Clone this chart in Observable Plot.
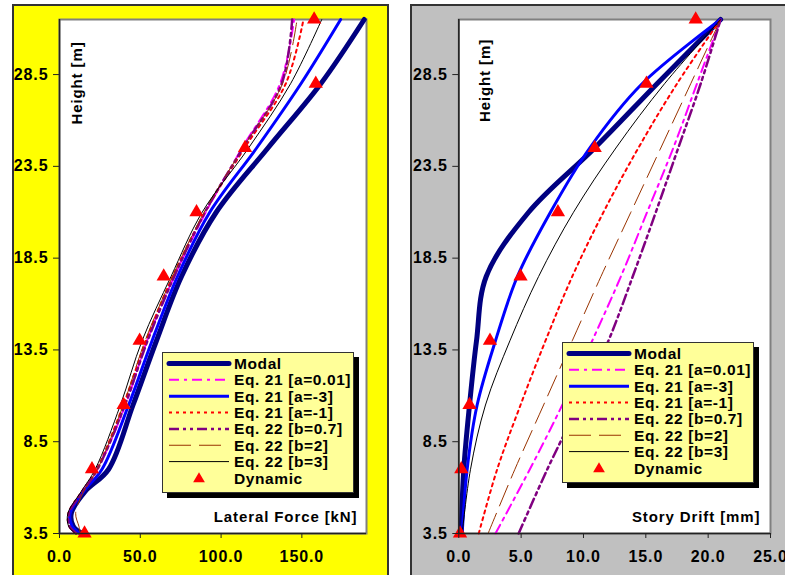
<!DOCTYPE html>
<html><head><meta charset="utf-8">
<script src="https://cdn.jsdelivr.net/npm/d3@7"></script>
<script src="https://cdn.jsdelivr.net/npm/@observablehq/plot@0.6"></script>
<style>
body{margin:0;background:#fff;width:785px;height:575px;overflow:hidden;position:relative;font-family:"Liberation Sans",Arial,sans-serif;}
.panel{position:absolute;box-sizing:border-box;}
#pL{left:12px;top:4px;width:377px;height:620px;background:#ffff00;border:2px solid #333;}
#pR{left:410px;top:4px;width:420px;height:620px;background:#c0c0c0;border:2px solid #333;}
.chart{position:absolute;top:0;}
</style></head><body>
<div id="pL" class="panel"></div><div id="pR" class="panel"></div>
<div id="cL" class="chart" style="left:0px"></div>
<div id="cR" class="chart" style="left:395px"></div>
<script>
// ---------- data ----------
const seriesNames = ["Modal","Eq. 21 [a=0.01]","Eq. 21 [a=-3]","Eq. 21 [a=-1]","Eq. 22 [b=0.7]","Eq. 22 [b=2]","Eq. 22 [b=3]"];
const dynamicName = "Dynamic";
const yTicks = [3.5, 8.5, 13.5, 18.5, 23.5, 28.5];
const storyHeights = [3.5, 7, 10.5, 14, 17.5, 21, 24.5, 28, 31.5];

// Left: lateral force [kN] (heights, incl. bottom bend)
const forceHeights = [3.5, 3.9, 4.6, 5.8, 7, 10.5, 14, 17.5, 21, 24.5, 28, 31.5];
const forceModal = [13.9, 8.5, 7.3, 16, 30.4, 45.5, 60, 75.5, 97, 129, 161.7, 188.6];
const forceA001  = [10.5, 6.2, 5.8, 14.5, 23.5, 40.8, 54.2, 71, 90.5, 113, 136.5, 145.2];
const forceAm3   = [12.8, 7.8, 6.6, 15, 26.3, 42.8, 57.3, 73, 93, 122, 149.4, 174];
const forceAm1   = [10, 6, 5.5, 14, 23, 39.5, 53.5, 70, 90, 114.5, 140, 151];
const forceB07   = [10.5, 6.2, 5.8, 14.5, 23.5, 40.5, 54.5, 71, 90, 113.5, 137.5, 144];
const forceB2    = [13, 12, 10, 15, 23.5, 39.5, 53, 70, 89.5, 113.5, 138, 147];
const forceB3    = [9.7, 5.6, 5.2, 13.5, 22.1, 37.7, 51.1, 69, 88.3, 117, 143, 162.3];
const forceDynamic = [15.5, 20.1, 39.7, 49.6, 64.5, 84.8, 114.8, 158.6, 157.6];
const forceTicks = [0, 50, 100, 150];

// Right: story drift [mm]
const driftModal = [0.19, 0.4, 0.86, 1.42, 2.2, 5.6, 10.9, 15.9, 21.0];
const driftA001  = [2.94, 5.7, 8.3, 10.7, 13.0, 15.1, 17.2, 19.1, 21.0];
const driftAm3   = [0.27, 0.67, 1.47, 2.94, 4.7, 7.35, 10.5, 14.7, 21.0];
const driftAm1   = [1.6, 3.08, 4.95, 6.95, 9.1, 11.6, 14.4, 17.5, 21.0];
const driftB07   = [4.8, 7.1, 9.6, 12.0, 13.95, 15.8, 17.6, 19.4, 21.0];
const driftB2    = [2.35, 4.5, 6.8, 9.1, 11.4, 13.8, 16.2, 18.6, 21.0];
const driftB3    = [0.27, 0.94, 2.14, 4.1, 6.4, 9.2, 12.6, 16.5, 21.0];
const driftDynamic = [0.1, 0.2, 0.86, 2.5, 4.95, 7.95, 10.9, 15.05, 19.0];
const driftTicks = [0, 5, 10, 15, 20, 25];

// ---------- styles ----------
const styles = [
  {stroke:"#000080", width:5},
  {stroke:"#ff00ff", width:2, dash:"10,5,3,5"},
  {stroke:"#0000ff", width:3},
  {stroke:"#ff0000", width:2, dash:"3,4"},
  {stroke:"#800080", width:2.5, dash:"10,4,3,4,3,4"},
  {stroke:"#993300", width:1, dash:"22,8"},
  {stroke:"#000000", width:1}
];
const FONT = "'Liberation Sans', Arial, sans-serif";

function makeChart({heights, values, dynValues, xDomain, xTicks, width, ml, mr, xTitle, titleDx, hDx, hDy}) {
  const marks = [Plot.frame({fill:"white", stroke:"#808080", strokeWidth:2})];
  seriesNames.forEach((name, i) => {
    const data = heights.map((h, j) => ({h, v: values[i][j], name}));
    const s = styles[i];
    const o = {x:"v", y:"h", stroke:s.stroke, strokeWidth:s.width, curve:"catmull-rom"};
    if (s.dash) o.strokeDasharray = s.dash;
    marks.push(Plot.line(data, o));
  });
  marks.push(Plot.dot(storyHeights.map((h, j) => ({h, v: dynValues[j]})),
    {x:"v", y:"h", symbol:"triangle", r:5.3, fill:"#ff0000", stroke:"none"}));
  marks.push(Plot.ruleX([xDomain[0]], {stroke:"#222", strokeWidth:1.5}));
  marks.push(Plot.ruleY([3.5], {stroke:"#222", strokeWidth:1.5}));
  marks.push(Plot.axisX(xTicks, {tickSize:5, tickPadding:12, tickFormat:d => d.toFixed(1), label:null, fontSize:16, fontWeight:"bold", stroke:"#222"}));
  marks.push(Plot.axisY(yTicks, {tickSize:6, tickPadding:5, tickFormat:d => d.toFixed(1), label:null, fontSize:16, fontWeight:"bold", stroke:"#222"}));
  marks.push(Plot.text(["Height [m]"], {text:d => d, frameAnchor:"top-left", dx:hDx, dy:hDy, rotate:-90, textAnchor:"middle", lineAnchor:"middle", fontSize:15, fontWeight:"bold", fill:"#000"}));
  marks.push(Plot.text([xTitle], {text:d => d, frameAnchor:"bottom-right", dx:titleDx, dy:-16, textAnchor:"end", lineAnchor:"middle", fontSize:15, fontWeight:"bold", fill:"#000"}));
  const svg = Plot.plot({
    width, height:575, marginLeft:ml, marginRight:mr, marginTop:19, marginBottom:42,
    x:{domain:xDomain}, y:{domain:[3.5, 31.5]},
    style:{background:"transparent", fontFamily:FONT, color:"#000"},
    marks
  });
  svg.style.letterSpacing = "0.9px";
  svg.style.fontWeight = "bold";
  return svg;
}

document.getElementById("cL").appendChild(makeChart({
  heights: forceHeights,
  values: [forceModal, forceA001, forceAm3, forceAm1, forceB07, forceB2, forceB3],
  dynValues: forceDynamic, xDomain:[0, 190], xTicks: forceTicks,
  width:390, ml:59, mr:24, xTitle:"Lateral Force [kN]", titleDx:-9, hDx:18, hDy:63.5
}));
document.getElementById("cR").appendChild(makeChart({
  heights: storyHeights,
  values: [driftModal, driftA001, driftAm3, driftAm1, driftB07, driftB2, driftB3],
  dynValues: driftDynamic, xDomain:[0, 25], xTicks: driftTicks,
  width:390, ml:63.3, mr:15, xTitle:"Story Drift [mm]", titleDx:-10, hDx:26.7, hDy:61
}));

function legend(left, top) {
  const w = 192, h = 141, rowH = 16.35, y0 = 11.5;
  const svg = d3.select("body").append("svg")
    .style("position","absolute").style("left",left+"px").style("top",top+"px")
    .attr("width", w+6).attr("height", h+6);
  svg.append("rect").attr("x",5).attr("y",5).attr("width",w).attr("height",h).attr("fill","#000");
  svg.append("rect").attr("x",0.5).attr("y",0.5).attr("width",w-1).attr("height",h-1).attr("fill","#ffff99").attr("stroke","#333");
  const names = seriesNames.concat([dynamicName]);
  names.forEach((name, i) => {
    const y = y0 + i*rowH;
    if (i < styles.length) {
      const s = styles[i];
      svg.append("line").attr("x1",7).attr("x2",67).attr("y1",y).attr("y2",y)
        .attr("stroke",s.stroke).attr("stroke-width",s.width).attr("stroke-dasharray",s.dash || null)
        .attr("stroke-linecap", i===0 ? "round" : "butt");
    } else {
      svg.append("path").attr("d", d3.symbol().type(d3.symbolTriangle).size(60)())
        .attr("transform",`translate(37,${y+1})`).attr("fill","#ff0000");
    }
    svg.append("text").attr("x",72).attr("y",y).attr("dy","0.36em")
      .style("font-family",FONT).style("font-size","15.5px").style("font-weight","bold")
      .style("letter-spacing","0.6px").attr("fill","#000").text(name);
  });
}
legend(162, 352);
legend(562, 342);
</script>
</body></html>
